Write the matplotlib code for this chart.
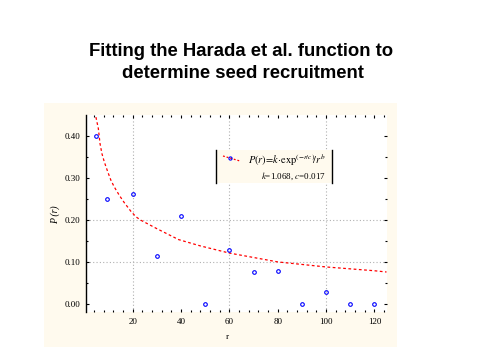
import matplotlib
matplotlib.use("Agg")
import matplotlib.pyplot as plt
from matplotlib.patches import Rectangle
from matplotlib.lines import Line2D
from matplotlib.ticker import MultipleLocator

plt.rcParams["mathtext.fontset"] = "stix"

# observed seed recruitment
r_obs = [5, 9.5, 20, 30, 40, 50, 60, 70, 80, 90, 100, 110, 120]
p_obs = [0.40, 0.249, 0.262, 0.113, 0.208, 0.0, 0.129, 0.075, 0.078, 0.0, 0.029, 0.0, 0.0]

# fitted curve
r_fit = [4.8, 5.8, 6.5, 7.3, 8.3, 9.7, 11.0, 12.4, 14.5, 16.5, 19.3, 21.4, 23.4,
         30, 39, 48, 60, 80, 100, 120, 125]
p_fit = [0.444, 0.417, 0.381, 0.357, 0.337, 0.314, 0.294, 0.278, 0.258, 0.241,
         0.220, 0.207, 0.199, 0.179, 0.153, 0.138, 0.121, 0.100, 0.088, 0.079, 0.076]

title_lines = ["Fitting the Harada et al. function to", "determine seed recruitment"]
legend_formula = r"$P(r)\!=\!k{\cdot}\mathrm{exp}^{(-r/c)}\!/r^{b}$"
legend_params = r"$k$=1.068, $c$=0.017"

W, H = 480, 360
cream = "#fffaee"


def fx(px):
    return px / W


def fy(py):
    return 1 - py / H


fig = plt.figure(figsize=(4.8, 3.6), dpi=100)
fig.patch.set_facecolor("white")

# cream panel behind the chart
fig.patches.append(Rectangle((fx(44), fy(347)), fx(397) - fx(44), fy(103) - fy(347),
                             transform=fig.transFigure, facecolor=cream,
                             edgecolor="none", zorder=0))

ax = fig.add_axes([fx(86), fy(312), fx(387) - fx(86), fy(115) - fy(312)])
ax.set_zorder(1)
ax.set_facecolor("white")

# grid lines (only a few, as in the original)
for gx in [20, 60, 100]:
    ax.axvline(gx, color="#b0b0b0", lw=0.8, ls=(0, (1, 2)), zorder=1)
for gy in [0.1, 0.2]:
    ax.axhline(gy, color="#b0b0b0", lw=0.8, ls=(0, (1, 2)), zorder=1)

ax.plot(r_fit, p_fit, color="red", lw=0.9, ls=(0, (2.2, 2)), zorder=2)
ax.plot(r_obs, p_obs, ls="none", marker="o", ms=2.6, mfc="none", mec="blue",
        mew=0.8, zorder=3)

ax.set_xlim(0.7, 125.2)
ax.set_ylim(-0.019, 0.449)
ax.xaxis.set_minor_locator(MultipleLocator(4))
ax.yaxis.set_minor_locator(MultipleLocator(0.05))
ax.set_xticks([20, 40, 60, 80, 100, 120])
ax.set_xticklabels(["20", "40", "60", "80", "100", "120"])
ax.set_yticks([0.0, 0.1, 0.2, 0.3, 0.4])
ax.set_yticklabels(["0.00", "0.10", "0.20", "0.30", "0.40"])

for s in ["top", "right", "bottom"]:
    ax.spines[s].set_visible(False)
ax.spines["left"].set_linewidth(1.0)

ax.tick_params(which="both", direction="in", top=True, right=True,
               width=0.8, labelsize=6.5, pad=4)
ax.tick_params(which="major", length=2.5)
ax.tick_params(which="minor", length=1.5)
for lab in ax.get_xticklabels() + ax.get_yticklabels():
    lab.set_family("Liberation Serif")

fig.text(fx(55), fy(215), "P (r)", rotation=90, ha="center", va="center",
         fontsize=7, family="Liberation Serif", style="italic")
fig.text(fx(227), fy(337), "r", ha="center", va="center",
         fontsize=6.5, family="Liberation Serif")

# title
fig.text(fx(241), fy(56), title_lines[0], ha="center", va="baseline",
         fontsize=13.3, fontweight="bold", family="Liberation Sans")
fig.text(fx(243), fy(78), title_lines[1], ha="center", va="baseline",
         fontsize=13.3, fontweight="bold", family="Liberation Sans")

# legend box: cream fill with only the side borders
fig.patches.append(Rectangle((fx(216), fy(183)), fx(332) - fx(216), fy(150) - fy(183),
                             transform=fig.transFigure, facecolor=cream,
                             edgecolor="none", zorder=5))
for bx in [216, 332]:
    fig.lines.append(Line2D([fx(bx), fx(bx)], [fy(150), fy(183)],
                            transform=fig.transFigure, color="black", lw=1.0, zorder=6))
fig.lines.append(Line2D([fx(223), fx(240)], [fy(156), fy(161)],
                        transform=fig.transFigure, color="red", lw=0.9,
                        ls=(0, (1.5, 1.5)), zorder=6))
fig.lines.append(Line2D([fx(230)], [fy(158)], transform=fig.transFigure,
                        ls="none", marker="o", ms=2.3, mfc="none", mec="blue",
                        mew=0.8, zorder=7))
fig.text(fx(248), fy(160), legend_formula, ha="left", va="center",
         fontsize=7.5, family="Liberation Serif", zorder=7)
fig.text(fx(326), fy(176), legend_params, ha="right", va="center",
         fontsize=6.5, family="Liberation Serif", zorder=7)

fig.savefig("out.png", dpi=100)
